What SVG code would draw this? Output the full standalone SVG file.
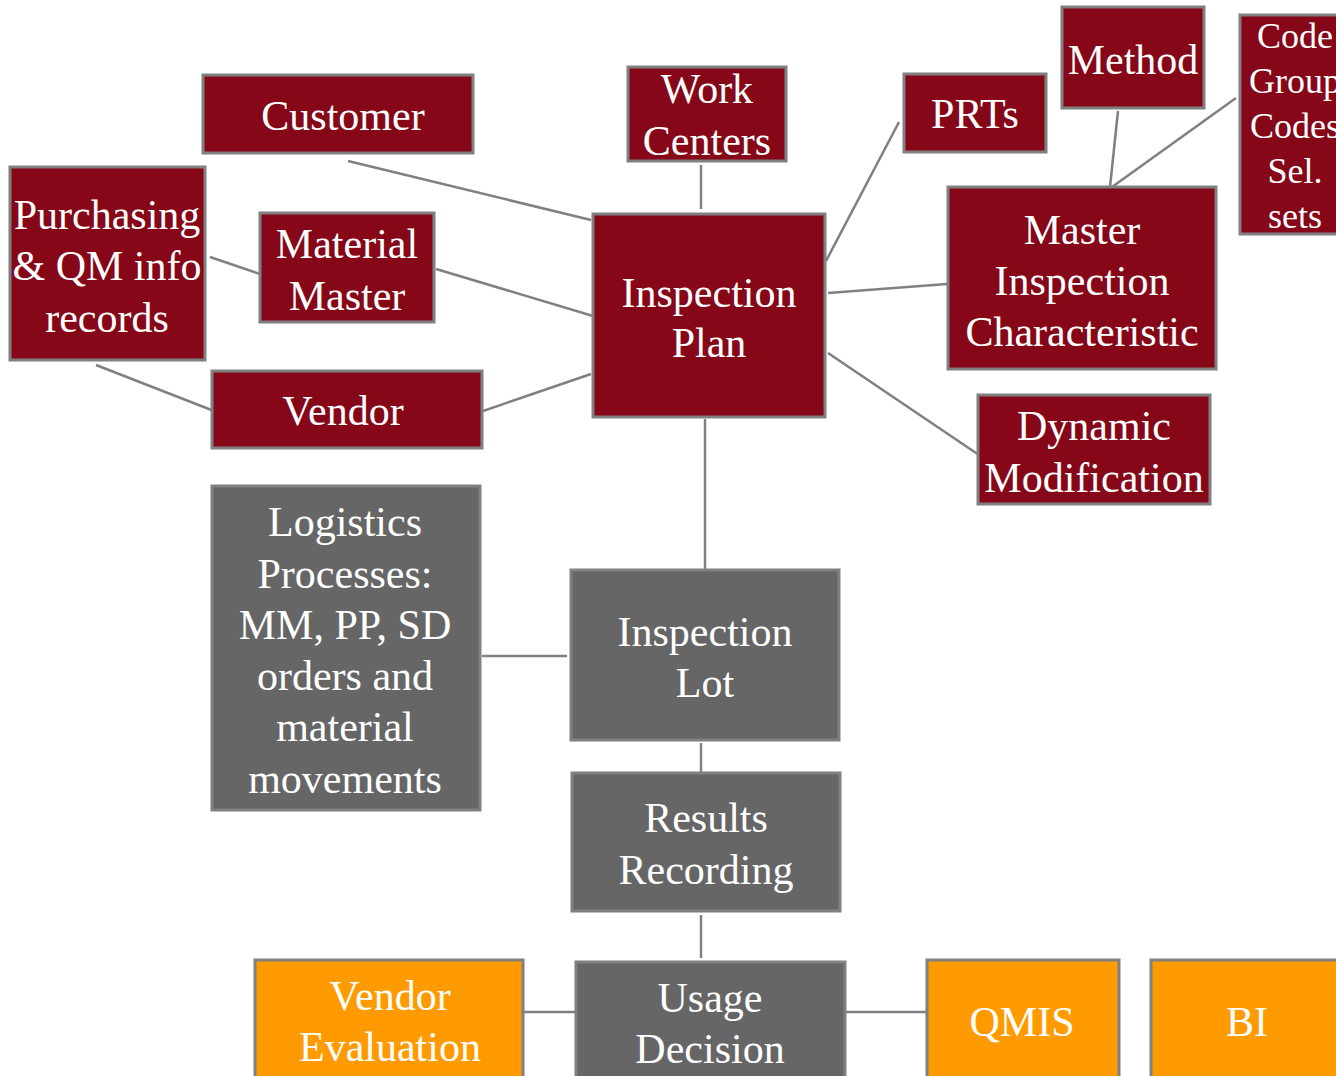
<svg xmlns="http://www.w3.org/2000/svg" width="1336" height="1076" viewBox="0 0 1336 1076">
<style>
.r rect{fill:#860718;stroke:#808080;stroke-width:3}
.g rect{fill:#666666;stroke:#808080;stroke-width:3}
.o rect{fill:#FF9B00;stroke:#808080;stroke-width:3}
text{font-family:"Liberation Serif","Times New Roman",serif;font-size:42px;fill:#ffffff;text-anchor:middle}
.s{font-size:36px}
#connectors line{stroke:#808080;stroke-width:2.5}
</style>
<rect width="1336" height="1076" fill="#ffffff"/>
<g id="connectors">
<line x1="348" y1="161" x2="591" y2="220"/>
<line x1="701" y1="165" x2="701" y2="209"/>
<line x1="436" y1="269" x2="593" y2="316"/>
<line x1="210" y1="257" x2="260" y2="274"/>
<line x1="96" y1="365" x2="214" y2="411"/>
<line x1="483" y1="411" x2="591" y2="374"/>
<line x1="899" y1="122" x2="826" y2="261"/>
<line x1="828" y1="293" x2="947" y2="284"/>
<line x1="828" y1="353" x2="979" y2="455"/>
<line x1="1118" y1="111" x2="1110" y2="187"/>
<line x1="1236" y1="98" x2="1112" y2="187"/>
<line x1="705" y1="419" x2="705" y2="570"/>
<line x1="482" y1="656" x2="567" y2="656"/>
<line x1="701" y1="743" x2="701" y2="772"/>
<line x1="701" y1="915" x2="701" y2="958"/>
<line x1="523" y1="1012" x2="576" y2="1012"/>
<line x1="845" y1="1012" x2="927" y2="1012"/>
</g>
<g id="customer" class="r"><rect x="203" y="75" width="270" height="78"/><text x="343" y="130">Customer</text></g>
<g id="work-centers" class="r"><rect x="628" y="67" width="158" height="94"/><text x="707" y="103">Work</text><text x="707" y="155">Centers</text></g>
<g id="prts" class="r"><rect x="904" y="74" width="142" height="78"/><text x="975" y="128">PRTs</text></g>
<g id="method" class="r"><rect x="1062" y="7" width="142" height="101"/><text x="1133" y="74">Method</text></g>
<g id="code-group" class="r"><rect x="1240" y="15" width="110" height="219"/><text class="s" x="1295" y="48">Code</text><text class="s" x="1295" y="93">Group</text><text class="s" x="1295" y="138">Codes</text><text class="s" x="1295" y="183">Sel.</text><text class="s" x="1295" y="228">sets</text></g>
<g id="purchasing" class="r"><rect x="10" y="167" width="195" height="193"/><text x="107" y="229">Purchasing</text><text x="107" y="280">&amp; QM info</text><text x="107" y="332">records</text></g>
<g id="material-master" class="r"><rect x="260" y="213" width="174" height="109"/><text x="347" y="258">Material</text><text x="347" y="310">Master</text></g>
<g id="inspection-plan" class="r"><rect x="593" y="214" width="232" height="203"/><text x="709" y="307">Inspection</text><text x="709" y="357">Plan</text></g>
<g id="mic" class="r"><rect x="948" y="187" width="268" height="182"/><text x="1082" y="244">Master</text><text x="1082" y="295">Inspection</text><text x="1082" y="346">Characteristic</text></g>
<g id="vendor" class="r"><rect x="212" y="371" width="270" height="77"/><text x="343" y="425">Vendor</text></g>
<g id="dynamic-modification" class="r"><rect x="978" y="395" width="232" height="109"/><text x="1094" y="440">Dynamic</text><text x="1094" y="492">Modification</text></g>
<g id="logistics" class="g"><rect x="212" y="486" width="268" height="324"/><text x="345" y="536">Logistics</text><text x="345" y="588">Processes:</text><text x="345" y="639">MM, PP, SD</text><text x="345" y="690">orders and</text><text x="345" y="741">material</text><text x="345" y="793">movements</text></g>
<g id="inspection-lot" class="g"><rect x="571" y="570" width="268" height="170"/><text x="705" y="646">Inspection</text><text x="705" y="697">Lot</text></g>
<g id="results-recording" class="g"><rect x="572" y="773" width="268" height="138"/><text x="706" y="832">Results</text><text x="706" y="884">Recording</text></g>
<g id="usage-decision" class="g"><rect x="576" y="962" width="269" height="130"/><text x="710" y="1012">Usage</text><text x="710" y="1063">Decision</text></g>
<g id="vendor-evaluation" class="o"><rect x="255" y="960" width="268" height="130"/><text x="390" y="1010">Vendor</text><text x="390" y="1061">Evaluation</text></g>
<g id="qmis" class="o"><rect x="927" y="960" width="192" height="130"/><text x="1022" y="1036">QMIS</text></g>
<g id="bi" class="o"><rect x="1151" y="960" width="200" height="130"/><text x="1247" y="1036">BI</text></g>
</svg>
